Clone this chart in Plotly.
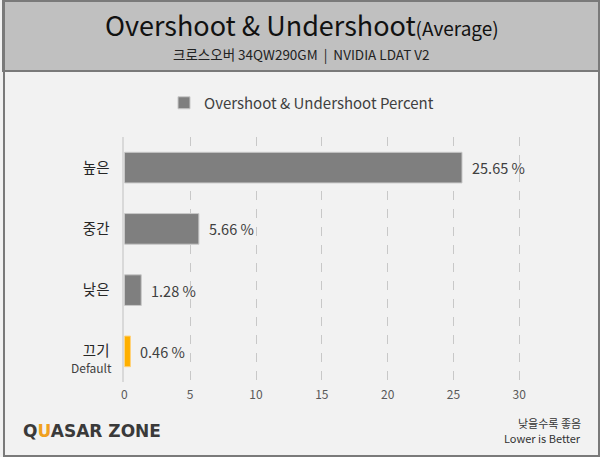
import plotly.graph_objects as go

categories = ["높은", "중간", "낮은", "끄기"]
values = [25.65, 5.66, 1.28, 0.46]
bar_colors = ["#7f7f7f", "#7f7f7f", "#7f7f7f", "#ffb000"]
x_ticks = [0, 5, 10, 15, 20, 25, 30]
series_name = "Overshoot & Undershoot Percent"

W, H = 600, 457
FONT = "Noto Sans CJK KR"

def px(x):
    return x / W

def py(y):
    return 1 - y / H

fig = go.Figure()
fig.add_trace(go.Bar(
    y=categories[:3], x=values[:3], orientation="h",
    marker=dict(color=bar_colors[:3], line=dict(color="#c8c8c8", width=1)),
    name=series_name, showlegend=True, width=0.5,
))
fig.add_trace(go.Bar(
    y=categories[3:], x=values[3:], orientation="h",
    marker=dict(color=bar_colors[3:], line=dict(color="#ffd27a", width=1)),
    showlegend=False, width=0.5,
))

annotations = []
for c, v in zip(categories, values):
    annotations.append(dict(x=v, y=c, xref="x", yref="y", text=f"{v:.2f} %",
                            showarrow=False, xanchor="left", xshift=8,
                            font=dict(size=14.5, color="#404040", family=FONT)))

annotations += [
    dict(x=0.5, y=py(25), xref="paper", yref="paper", showarrow=False,
         text="Overshoot & Undershoot<span style='font-size:19px'>(Average)</span>",
         font=dict(size=27, color="#111111", family=FONT), xanchor="center", yanchor="middle"),
    dict(x=0.5, y=py(54), xref="paper", yref="paper", showarrow=False,
         text="크로스오버 34QW290GM  |  NVIDIA LDAT V2",
         font=dict(size=13.5, color="#222222", family=FONT), xanchor="center", yanchor="middle"),
    dict(x=px(112), y=py(367), xref="paper", yref="paper", showarrow=False,
         text="Default", font=dict(size=12, color="#404040", family=FONT),
         xanchor="right", yanchor="middle"),
    dict(x=px(18), y=py(431), xref="paper", yref="paper", showarrow=False,
         text="<b>Q<span style='color:#f0a020'>U</span>ASAR ZONE</b>",
         font=dict(size=17, color="#3a3a3a", family="DejaVu Sans"),
         xanchor="left", yanchor="middle"),
    dict(x=px(583), y=py(423), xref="paper", yref="paper", showarrow=False,
         text="낮을수록 좋음", font=dict(size=11, color="#333333", family=FONT),
         xanchor="right", yanchor="middle"),
    dict(x=px(583), y=py(438), xref="paper", yref="paper", showarrow=False,
         text="Lower is Better", font=dict(size=11, color="#333333", family=FONT),
         xanchor="right", yanchor="middle"),
]

shapes = [
    dict(type="rect", xref="paper", yref="paper", x0=0, x1=1, y0=py(71), y1=1,
         fillcolor="#c0c0c0", line=dict(color="#7a7a7a", width=2), layer="below"),
    dict(type="rect", xref="paper", yref="paper", x0=px(1), x1=px(599), y0=py(456), y1=py(1),
         fillcolor="rgba(0,0,0,0)", line=dict(color="#7a7a7a", width=2)),
]

fig.update_layout(
    width=W, height=H,
    margin=dict(l=0, r=0, t=0, b=0),
    paper_bgcolor="#f2f2f2", plot_bgcolor="#f2f2f2",
    barmode="overlay",
    font=dict(family=FONT, color="#404040"),
    showlegend=True,
    legend=dict(orientation="h", x=0.5, xanchor="center", y=py(103), yanchor="middle",
                font=dict(size=15, color="#404040", family=FONT), bgcolor="rgba(0,0,0,0)",
                itemwidth=30),
    xaxis=dict(domain=[px(122), px(585)], range=[0, 35], tickvals=x_ticks,
               showgrid=True, gridcolor="#c8c8c8", griddash="dash", gridwidth=1,
               zeroline=False, showline=False, ticks="", ticklabelstandoff=4,
               tickfont=dict(size=12, color="#595959", family=FONT)),
    yaxis=dict(domain=[py(382), py(137)], categoryorder="array", categoryarray=categories,
               autorange="reversed", showgrid=False, zeroline=False,
               showline=True, linecolor="#d9d9d9", linewidth=2, ticks="",
               ticklabelstandoff=10,
               tickfont=dict(size=14.5, color="#262626", family=FONT)),
    annotations=annotations,
    shapes=shapes,
)

fig.write_html("out.html")
